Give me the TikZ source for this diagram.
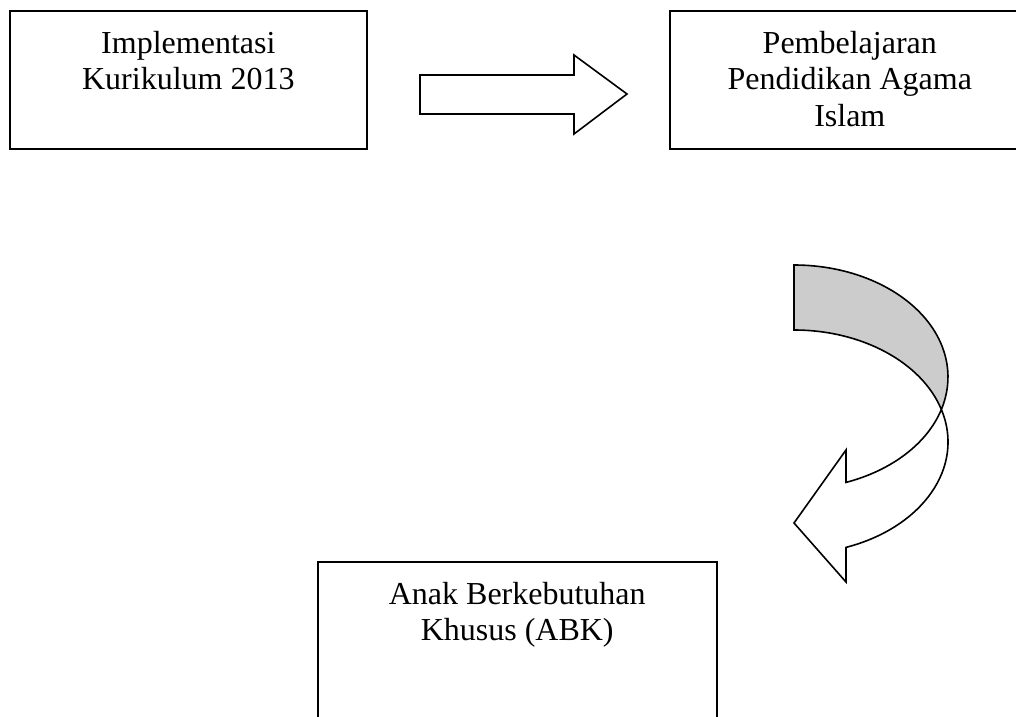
\documentclass[tikz,border=0pt]{standalone}
\usepackage{fontspec}
\setmainfont{Liberation Serif}
\usetikzlibrary{positioning}

\begin{document}
\begin{tikzpicture}[%
    x=0.375pt, y=-0.375pt,                 % one unit = one pixel of the page, y going down
    font=\fontsize{12}{13.7}\selectfont,   % Word body text
    ]
% -------------------------------------------------
% Box and arrow styles
\tikzset{
  box/.style={draw, line width=0.6pt, rectangle, anchor=north west, inner sep=0pt},
  txt/.style={align=center, inner sep=0pt},
  % block arrows as drawn in the word processor
  blockarrow/.style={draw, line width=0.6pt, fill=white, line join=miter},
  backface/.style={blockarrow, fill=black!20},
  ell/.style={x radius=154, y radius=112}
}
\useasboundingbox (0,0) rectangle (1016,717);
\clip (0,0) rectangle (1016,717);

% -------------------------------------------------
% Place the boxes
\node [box, minimum width=133.9pt, minimum height=51.75pt] (k13) at (9,10) {};
\node [box, minimum width=135pt, minimum height=51.75pt] (pai) at (669,10) {};
\node [box, minimum width=149.6pt, minimum height=70pt] (abk) at (317,561) {};

% Texts inside the boxes
\node [txt, below=7.6pt of k13.north] (k13t) {Implementasi\\Kurikulum 2013};
\node [txt, below=7.6pt of pai.north] (pait) {Pembelajaran\\Pendidikan Agama\\Islam};
\node [txt, below=7.6pt of abk.north] (abkt) {Anak Berkebutuhan\\Khusus (ABK)};

% -------------------------------------------------
% Straight block arrow
\draw [blockarrow] (420,75) -- (574,75) -- (574,55) -- (627,94)
  -- (574,134) -- (574,114) -- (420,114) -- cycle;

% Curved block arrow: back face first, then front with the head
\draw [backface] (794,265) arc [ell, start angle=-90, end angle=16.87]
  arc [ell, start angle=-16.87, end angle=-90] -- cycle;
\draw [blockarrow] (846,482.4) -- (846,450) -- (794,523) -- (846,582) -- (846,547.4)
  arc [ell, start angle=70.27, end angle=-16.87]
  arc [ell, start angle=16.87, end angle=70.27] -- cycle;

\end{tikzpicture}
\end{document}
